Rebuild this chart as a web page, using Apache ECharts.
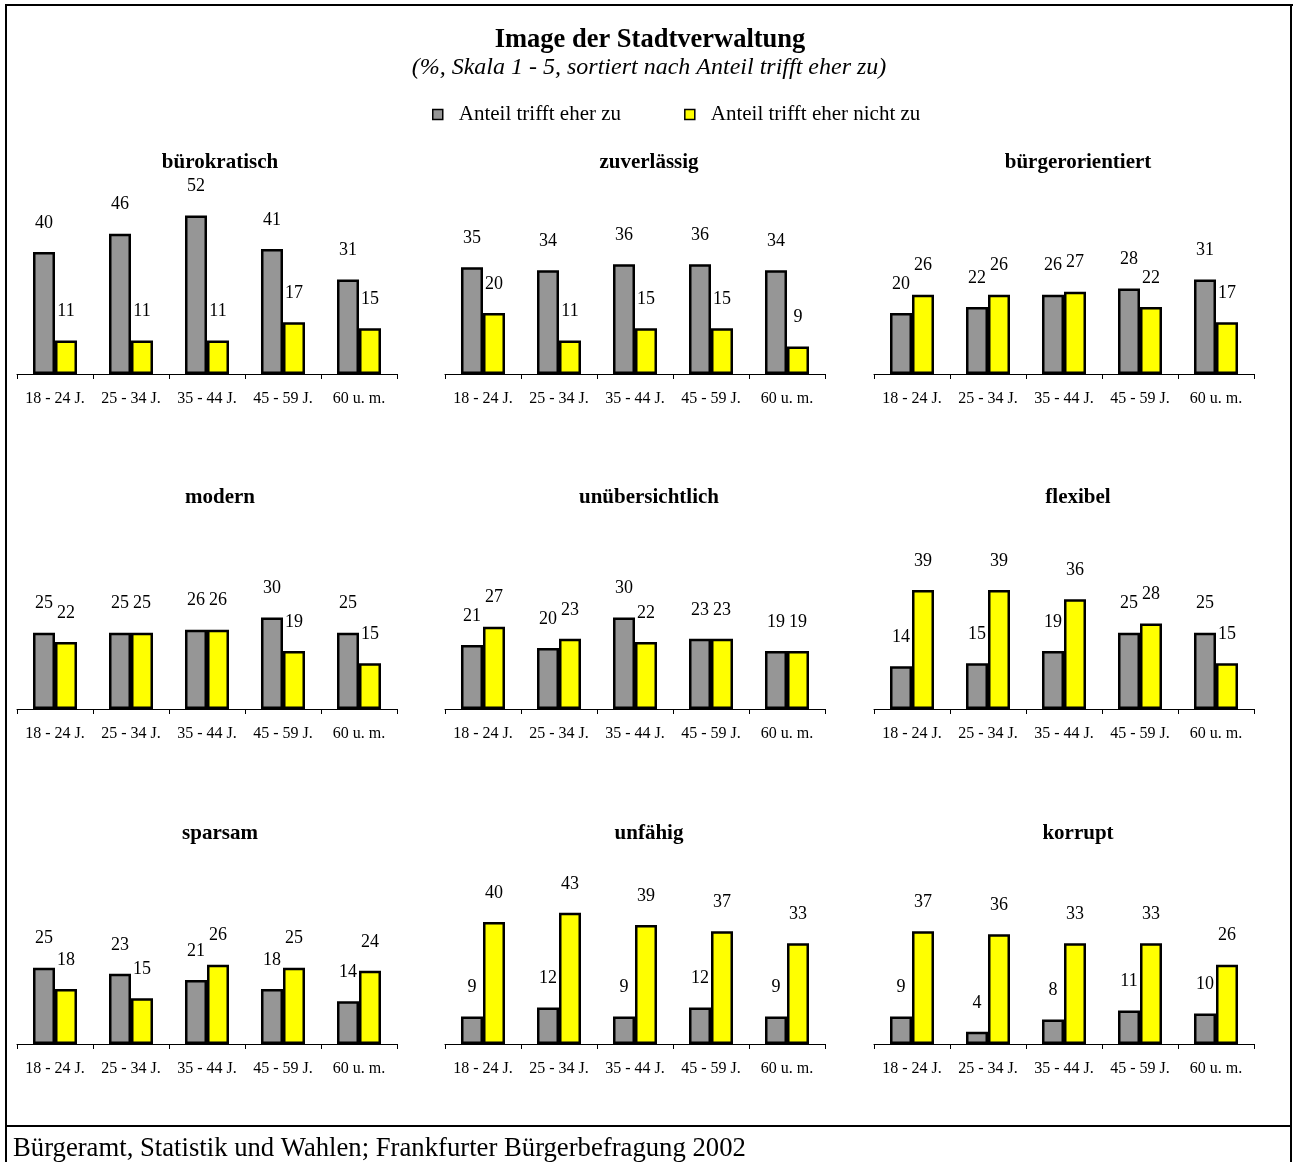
<!DOCTYPE html>
<html>
<head>
<meta charset="utf-8">
<script src="https://cdn.jsdelivr.net/npm/echarts@6/dist/echarts.min.js"></script>
<style>html,body{margin:0;padding:0;background:#fff;}#c{width:1293px;height:1162px;}</style>
</head>
<body>
<div id="c"></div>
<script>
var categories = ['18 - 24 J.', '25 - 34 J.', '35 - 44 J.', '45 - 59 J.', '60 u. m.'];
var seriesNames = ['Anteil trifft eher zu', 'Anteil trifft eher nicht zu'];
var panelTitles = ['bürokratisch', 'zuverlässig', 'bürgerorientiert', 'modern', 'unübersichtlich', 'flexibel', 'sparsam', 'unfähig', 'korrupt'];

var buerokratischZu = [40, 46, 52, 41, 31];
var buerokratischNicht = [11, 11, 11, 17, 15];
var zuverlaessigZu = [35, 34, 36, 36, 34];
var zuverlaessigNicht = [20, 11, 15, 15, 9];
var buergerorientiertZu = [20, 22, 26, 28, 31];
var buergerorientiertNicht = [26, 26, 27, 22, 17];
var modernZu = [25, 25, 26, 30, 25];
var modernNicht = [22, 25, 26, 19, 15];
var unuebersichtlichZu = [21, 20, 30, 23, 19];
var unuebersichtlichNicht = [27, 23, 22, 23, 19];
var flexibelZu = [14, 15, 19, 25, 25];
var flexibelNicht = [39, 39, 36, 28, 15];
var sparsamZu = [25, 23, 21, 18, 14];
var sparsamNicht = [18, 15, 26, 25, 24];
var unfaehigZu = [9, 12, 9, 12, 9];
var unfaehigNicht = [40, 43, 39, 37, 33];
var korruptZu = [9, 4, 8, 11, 10];
var korruptNicht = [37, 36, 33, 33, 26];

var zuData = [buerokratischZu, zuverlaessigZu, buergerorientiertZu, modernZu, unuebersichtlichZu, flexibelZu, sparsamZu, unfaehigZu, korruptZu];
var nichtData = [buerokratischNicht, zuverlaessigNicht, buergerorientiertNicht, modernNicht, unuebersichtlichNicht, flexibelNicht, sparsamNicht, unfaehigNicht, korruptNicht];

var FONT = '"Liberation Serif", "Times New Roman", serif';
var colLeft = [17, 445, 874];
var gridW = 380;
var rowBottom = [374, 709, 1044];
var gridH = 183;
var titleX = [220, 649, 1078];
var titleY = [163, 498, 834];

var grids = [], xAxes = [], yAxes = [], series = [], graphics = [];
for (var i = 0; i < 9; i++) {
  var r = Math.floor(i / 3), c = i % 3;
  grids.push({left: colLeft[c], top: rowBottom[r] - gridH, width: gridW, height: gridH, containLabel: false});
  xAxes.push({
    type: 'category', gridIndex: i, data: categories,
    axisLine: {lineStyle: {color: '#000', width: 1}},
    axisTick: {show: true, length: 5, lineStyle: {color: '#000'}},
    axisLabel: {fontFamily: FONT, fontSize: 16, color: '#000', margin: 17, interval: 0}
  });
  yAxes.push({type: 'value', gridIndex: i, min: 0, max: 60, show: false, splitLine: {show: false}});
  var lbl = {show: true, position: 'top', distance: 20, fontFamily: FONT, fontSize: 18, color: '#000'};
  series.push({
    name: seriesNames[0], type: 'bar', xAxisIndex: i, yAxisIndex: i, data: zuData[i],
    barWidth: 22, barGap: '0%',
    itemStyle: {color: '#969696', borderColor: '#000', borderWidth: 2.5},
    label: lbl, emphasis: {disabled: true}, animation: false
  });
  series.push({
    name: seriesNames[1], type: 'bar', xAxisIndex: i, yAxisIndex: i, data: nichtData[i],
    barWidth: 22, barGap: '0%',
    itemStyle: {color: '#ffff00', borderColor: '#000', borderWidth: 2.5},
    label: lbl, emphasis: {disabled: true}, animation: false
  });
  graphics.push({type: 'text', x: titleX[c], y: titleY[r], style: {text: panelTitles[i], fontFamily: FONT, fontSize: 21, fontWeight: 'bold', fill: '#000', textAlign: 'center', textVerticalAlign: 'middle'}});
}

graphics.push({type: 'text', x: 650, y: 40, style: {text: 'Image der Stadtverwaltung', fontFamily: FONT, fontSize: 26.5, fontWeight: 'bold', fill: '#000', textAlign: 'center', textVerticalAlign: 'middle'}});
graphics.push({type: 'text', x: 649, y: 68, style: {text: '(%, Skala 1 - 5, sortiert nach Anteil trifft eher zu)', fontFamily: FONT, fontSize: 24, fontStyle: 'italic', fill: '#000', textAlign: 'center', textVerticalAlign: 'middle'}});
graphics.push({type: 'text', x: 13, y: 1149, style: {text: 'Bürgeramt, Statistik und Wahlen; Frankfurter Bürgerbefragung 2002', fontFamily: FONT, fontSize: 26.7, fill: '#000', textAlign: 'left', textVerticalAlign: 'middle'}});
var ls = {stroke: '#000', lineWidth: 2};
graphics.push({type: 'line', shape: {x1: 5, y1: 5, x2: 1293, y2: 5}, style: ls});
graphics.push({type: 'line', shape: {x1: 6, y1: 4, x2: 6, y2: 1162}, style: ls});
graphics.push({type: 'line', shape: {x1: 1291, y1: 4, x2: 1291, y2: 1162}, style: ls});
graphics.push({type: 'line', shape: {x1: 5, y1: 1126, x2: 1292, y2: 1126}, style: ls});

var chart = echarts.init(document.getElementById('c'), null, {renderer: 'canvas'});
chart.setOption({
  animation: false,
  backgroundColor: '#fff',
  legend: {
    data: seriesNames, left: 432, top: 104, padding: 0, itemGap: 63,
    icon: 'rect', itemWidth: 10, itemHeight: 10,
    itemStyle: {borderWidth: 1.5, borderColor: '#000'},
    textStyle: {fontFamily: FONT, fontSize: 21, color: '#000', padding: [0, 0, 0, 11]},
    selectedMode: false
  },
  grid: grids, xAxis: xAxes, yAxis: yAxes, series: series,
  graphic: graphics
});
</script>
</body>
</html>
